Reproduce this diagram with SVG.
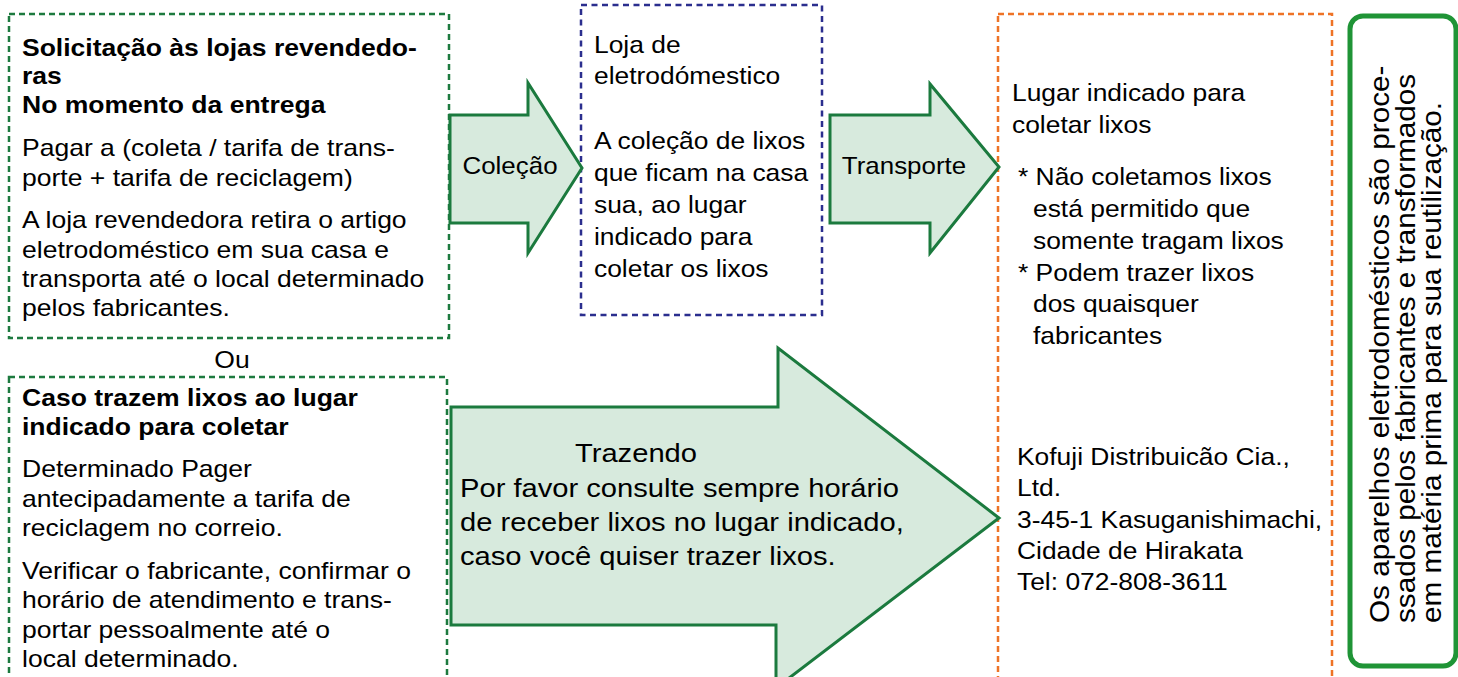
<svg xmlns="http://www.w3.org/2000/svg" width="1458" height="677" viewBox="0 0 1458 677">
<style>
text{font-family:"Liberation Sans",Arial,sans-serif;fill:#000}
.t{font-size:24px}
.b{font-size:24px;font-weight:bold}
.big{font-size:26.5px}
.v{font-size:28px}
.gbox{fill:none;stroke:#1d7a3f;stroke-width:2.5;stroke-dasharray:6 4}
.bbox{fill:none;stroke:#2b2e8e;stroke-width:2.5;stroke-dasharray:6 4.5}
.obox{fill:none;stroke:#ee7326;stroke-width:2.5;stroke-dasharray:6 4}
.arr{fill:#d7eadd;stroke:#1b7a3e;stroke-width:3;stroke-linejoin:miter}
</style>
<rect width="1458" height="677" fill="#fff"/>

<g id="box-retailer">
<rect class="gbox" x="9" y="14" width="440" height="324"/>
<text class="b" transform="translate(22 0) scale(1.105 1)">
<tspan x="0" y="56">Solicitação às lojas revendedo-</tspan>
<tspan x="0" y="84">ras</tspan>
<tspan x="0" y="113">No momento da entrega</tspan>
</text>
<text class="t" transform="translate(22 0) scale(1.105 1)">
<tspan x="0" y="156">Pagar a (coleta / tarifa de trans-</tspan>
<tspan x="0" y="186">porte + tarifa de reciclagem)</tspan>
<tspan x="0" y="228">A loja revendedora retira o artigo</tspan>
<tspan x="0" y="258">eletrodoméstico em sua casa e</tspan>
<tspan x="0" y="287">transporta até o local determinado</tspan>
<tspan x="0" y="316">pelos fabricantes.</tspan>
</text>
</g>

<g id="label-ou">
<text class="t" text-anchor="middle" transform="translate(232 0) scale(1.105 1)" x="0" y="368">Ou</text>
</g>

<g id="box-bring">
<rect class="gbox" x="9" y="377" width="438" height="320"/>
<text class="b" transform="translate(22 0) scale(1.105 1)">
<tspan x="0" y="406">Caso trazem lixos ao lugar</tspan>
<tspan x="0" y="435">indicado para coletar</tspan>
</text>
<text class="t" transform="translate(22 0) scale(1.105 1)">
<tspan x="0" y="477">Determinado Pager</tspan>
<tspan x="0" y="507">antecipadamente a tarifa de</tspan>
<tspan x="0" y="536">reciclagem no correio.</tspan>
<tspan x="0" y="579">Verificar o fabricante, confirmar o</tspan>
<tspan x="0" y="608">horário de atendimento e trans-</tspan>
<tspan x="0" y="638">portar pessoalmente até o</tspan>
<tspan x="0" y="667">local determinado.</tspan>
</text>
</g>

<g id="box-store">
<rect class="bbox" x="581" y="5" width="241" height="310"/>
<text class="t" transform="translate(594 0) scale(1.1 1)">
<tspan x="0" y="53">Loja de</tspan>
<tspan x="0" y="84">eletrodómestico</tspan>
<tspan x="0" y="149">A coleção de lixos</tspan>
<tspan x="0" y="181">que ficam na casa</tspan>
<tspan x="0" y="213">sua, ao lugar</tspan>
<tspan x="0" y="245">indicado para</tspan>
<tspan x="0" y="277">coletar os lixos</tspan>
</text>
</g>

<g id="box-place">
<rect class="obox" x="998" y="14" width="334" height="690"/>
<text class="t" transform="translate(1012 0) scale(1.1 1)">
<tspan x="0" y="101">Lugar indicado para</tspan>
<tspan x="0" y="133">coletar lixos</tspan>
</text>
<text class="t" transform="translate(1018 0) scale(1.1 1)">
<tspan x="0" y="185">* Não coletamos lixos</tspan>
<tspan x="0" y="281">* Podem trazer lixos</tspan>
</text>
<text class="t" transform="translate(1033 0) scale(1.1 1)">
<tspan x="0" y="217">está permitido que</tspan>
<tspan x="0" y="249">somente tragam lixos</tspan>
<tspan x="0" y="312">dos quaisquer</tspan>
<tspan x="0" y="344">fabricantes</tspan>
</text>
<text class="t" transform="translate(1017 0) scale(1.1 1)">
<tspan x="0" y="465">Kofuji Distribuicão Cia.,</tspan>
<tspan x="0" y="496">Ltd.</tspan>
<tspan x="0" y="528">3-45-1 Kasuganishimachi,</tspan>
<tspan x="0" y="559">Cidade de Hirakata</tspan>
<tspan x="0" y="590">Tel: 072-808-3611</tspan>
</text>
</g>

<g id="note-recycle">
<rect x="1350" y="16" width="106" height="650" rx="13" fill="#fff" stroke="#1f9436" stroke-width="5"/>
<text class="v" transform="translate(1389 623) rotate(-90) scale(1.06 1)" x="0" y="0">Os aparelhos eletrodomésticos são proce-</text>
<text class="v" transform="translate(1415 623) rotate(-90) scale(1.06 1)" x="0" y="0">ssados pelos fabricantes e transformados</text>
<text class="v" transform="translate(1441 623) rotate(-90) scale(1.06 1)" x="0" y="0">em matéria prima para sua reutilização.</text>
</g>

<g id="connectors">
<g id="arrow-colecao">
<path class="arr" d="M450,115 H528 V83 L582,168 L528,253 V223 H450 Z"/>
<text class="t" text-anchor="middle" transform="translate(510 0) scale(1.08 1)" x="0" y="174">Coleção</text>
</g>
<g id="arrow-transporte">
<path class="arr" d="M830,115 H930 V84 L999,167 L930,253 V223 H830 Z"/>
<text class="t" text-anchor="middle" transform="translate(904 0) scale(1.08 1)" x="0" y="174">Transporte</text>
</g>
<g id="arrow-trazendo">
<path class="arr" d="M451,407 H778 V348 L999,518 L776,688 V625 H451 Z"/>
<text class="big" text-anchor="middle" transform="translate(636 0) scale(1.1 1)" x="0" y="462">Trazendo</text>
<text class="big" transform="translate(460 0) scale(1.1 1)">
<tspan x="0" y="497">Por favor consulte sempre horário</tspan>
<tspan x="0" y="531">de receber lixos no lugar indicado,</tspan>
<tspan x="0" y="565">caso você quiser trazer lixos.</tspan>
</text>
</g>
</g>
</svg>
